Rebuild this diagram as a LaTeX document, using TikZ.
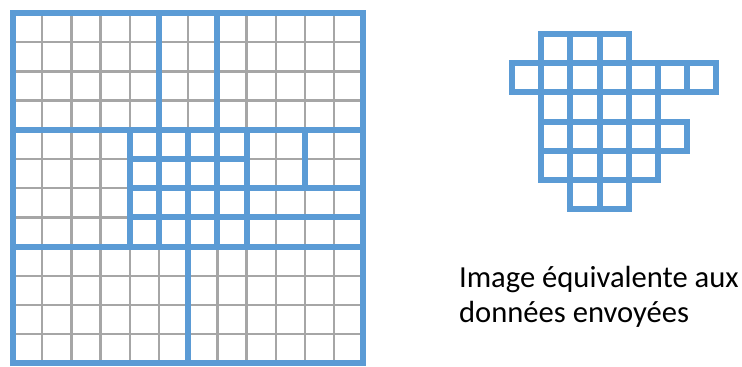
\documentclass[tikz,border=0pt]{standalone}
\usepackage{fontspec}
\setmainfont{Carlito}
\definecolor{gridblue}{RGB}{91,155,213}
\definecolor{gridgray}{RGB}{166,166,166}
\usetikzlibrary{positioning}

\begin{document}
\begin{tikzpicture}[
  x=29.2pt, y=-29.2pt,
  fineline/.style={draw=gridgray,line width=2.5pt},
  blockline/.style={draw=gridblue,line width=6pt,line cap=rect},
  caption/.style={font=\fontsize{30.6}{35}\selectfont,inner sep=0pt,anchor=base west},
]
  \useasboundingbox (-0.445,-0.445) rectangle (24.966,12.123);

  % Left panel: full image, fine grid
  \draw[fineline] (0,0) grid[step=29.2pt] (12,12);

  % blocks sent (blue)
  \draw[blockline] (0,0) rectangle (12,12);
  \draw[blockline] (0,4) -- (12,4);
  \draw[blockline] (0,8) -- (12,8);
  \draw[blockline] (5,0) -- (5,4);
  \draw[blockline] (7,0) -- (7,4);
  \draw[blockline] (6,8) -- (6,12);
  \draw[blockline] (4,4) grid[step=29.2pt] (8,8);
  \draw[blockline] (8,6) -- (12,6);
  \draw[blockline] (8,7) -- (12,7);
  \draw[blockline] (10,4) -- (10,6);

  % Right panel: equivalent image
  \begin{scope}[shift={(17.09,0.72)}]
    \draw[blockline] (1,0) grid[step=29.2pt] (4,1);
    \draw[blockline] (0,1) grid[step=29.2pt] (7,2);
    \draw[blockline] (1,2) grid[step=29.2pt] (5,3);
    \draw[blockline] (1,3) grid[step=29.2pt] (6,4);
    \draw[blockline] (1,4) grid[step=29.2pt] (5,5);
    \draw[blockline] (2,5) grid[step=29.2pt] (4,6);
  \end{scope}

  \node[caption] (capA) at (15.27,9.4) {Image équivalente aux};
  \node[caption] (capB) at (15.27,10.6) {données envoyées};
\end{tikzpicture}
\end{document}
